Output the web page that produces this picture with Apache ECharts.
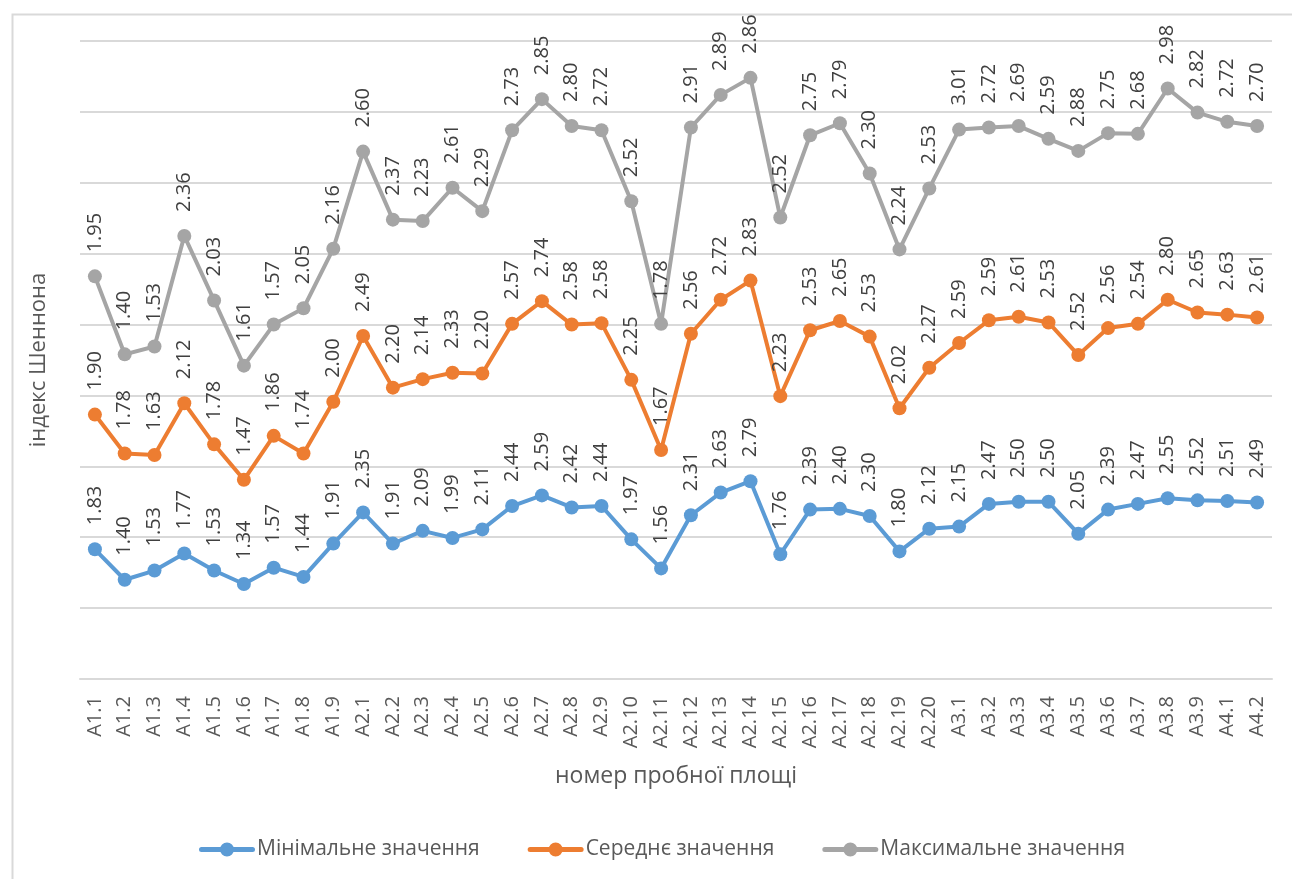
<!DOCTYPE html>
<html>
<head>
<meta charset="utf-8">
<script src="https://cdn.jsdelivr.net/npm/echarts@6/dist/echarts.min.js"></script>
<style>
  html, body { margin: 0; padding: 0; background: #ffffff; }
  #chart { width: 1292px; height: 879px; }
</style>
</head>
<body>
<div id="chart"></div>
<script>
// Sample plots
const categories = [
  'A1.1','A1.2','A1.3','A1.4','A1.5','A1.6','A1.7','A1.8','A1.9',
  'A2.1','A2.2','A2.3','A2.4','A2.5','A2.6','A2.7','A2.8','A2.9','A2.10',
  'A2.11','A2.12','A2.13','A2.14','A2.15','A2.16','A2.17','A2.18','A2.19','A2.20',
  'A3.1','A3.2','A3.3','A3.4','A3.5','A3.6','A3.7','A3.8','A3.9',
  'A4.1','A4.2'
];

// Shannon index values per plot
const minValues = [
  1.83, 1.40, 1.53, 1.77, 1.53, 1.34, 1.57, 1.44, 1.91,
  2.35, 1.91, 2.09, 1.99, 2.11, 2.44, 2.59, 2.42, 2.44, 1.97,
  1.56, 2.31, 2.63, 2.79, 1.76, 2.39, 2.40, 2.30, 1.80, 2.12,
  2.15, 2.47, 2.50, 2.50, 2.05, 2.39, 2.47, 2.55, 2.52,
  2.51, 2.49
];
const meanValues = [
  1.90, 1.78, 1.63, 2.12, 1.78, 1.47, 1.86, 1.74, 2.00,
  2.49, 2.20, 2.14, 2.33, 2.20, 2.57, 2.74, 2.58, 2.58, 2.25,
  1.67, 2.56, 2.72, 2.83, 2.23, 2.53, 2.65, 2.53, 2.02, 2.27,
  2.59, 2.59, 2.61, 2.53, 2.52, 2.56, 2.54, 2.80, 2.65,
  2.63, 2.61
];
const maxValues = [
  1.95, 1.40, 1.53, 2.36, 2.03, 1.61, 1.57, 2.05, 2.16,
  2.60, 2.37, 2.23, 2.61, 2.29, 2.73, 2.85, 2.80, 2.72, 2.52,
  1.78, 2.91, 2.89, 2.86, 2.52, 2.75, 2.79, 2.30, 2.24, 2.53,
  3.01, 2.72, 2.69, 2.59, 2.88, 2.75, 2.68, 2.98, 2.82,
  2.72, 2.70
];

const seriesNames = ['Мінімальне значення', 'Середнє значення', 'Максимальне значення'];
const seriesColors = ['#5B9BD5', '#ED7D31', '#A5A5A5'];

const FONT = 'Open Sans';

// Legend key: a thick line segment with a circle marker in the middle
const LEGEND_ICON = 'path://M2.5,4.5 H53.5 A2.5,2.5 0 0 1 53.5,9.5 H2.5 A2.5,2.5 0 0 1 2.5,4.5 Z ' +
                    'M35,7 A7,7 0 1 1 21,7 A7,7 0 1 1 35,7 Z';

const chart = echarts.init(document.getElementById('chart'), null, { renderer: 'canvas' });

function lineSeries(name, data, color) {
  return {
    name: name,
    type: 'line',
    stack: 'total',
    data: data,
    symbol: 'circle',
    symbolSize: 14,
    lineStyle: { color: color, width: 4 },
    itemStyle: { color: color },
    emphasis: { disabled: true },
    animation: false,
    label: {
      show: true,
      position: 'top',
      distance: 17,
      rotate: 90,
      align: 'left',
      verticalAlign: 'middle',
      color: '#404040',
      fontFamily: FONT,
      fontSize: 20,
      formatter: p => p.value.toFixed(2)
    }
  };
}

chart.setOption({
  backgroundColor: '#ffffff',
  animation: false,
  graphic: [{
    type: 'rect',
    left: 10,
    top: 12,
    shape: { width: 1320, height: 900 },
    style: { fill: 'none', stroke: '#d9d9d9', lineWidth: 2 },
    silent: true
  }],
  grid: { left: 80, right: 20, top: 41, bottom: 200, containLabel: false },
  legend: {
    top: 834,
    left: 194,
    itemWidth: 56,
    itemHeight: 14,
    itemGap: 48,
    icon: LEGEND_ICON,
    textStyle: { color: '#595959', fontFamily: FONT, fontSize: 21, padding: [0, 0, 0, -3] },
    data: seriesNames.map(n => ({ name: n, icon: LEGEND_ICON }))
  },
  xAxis: {
    type: 'category',
    data: categories,
    boundaryGap: true,
    axisLine: { lineStyle: { color: '#d9d9d9', width: 2 } },
    axisTick: { show: false },
    axisLabel: {
      rotate: 90,
      interval: 0,
      margin: 17,
      color: '#595959',
      fontFamily: FONT,
      fontSize: 20
    },
    name: 'номер пробної площі',
    nameLocation: 'middle',
    nameGap: 86,
    nameTextStyle: { color: '#595959', fontFamily: FONT, fontSize: 23 }
  },
  yAxis: {
    type: 'value',
    min: 0,
    max: 9,
    interval: 1,
    axisLabel: { show: false },
    axisLine: { show: false },
    axisTick: { show: false },
    splitLine: { lineStyle: { color: '#d9d9d9', width: 2 } },
    name: 'індекс Шеннона',
    nameLocation: 'middle',
    nameGap: 30,
    nameTextStyle: { color: '#595959', fontFamily: FONT, fontSize: 22 }
  },
  series: [
    lineSeries(seriesNames[0], minValues, seriesColors[0]),
    lineSeries(seriesNames[1], meanValues, seriesColors[1]),
    lineSeries(seriesNames[2], maxValues, seriesColors[2])
  ]
});
</script>
</body>
</html>
